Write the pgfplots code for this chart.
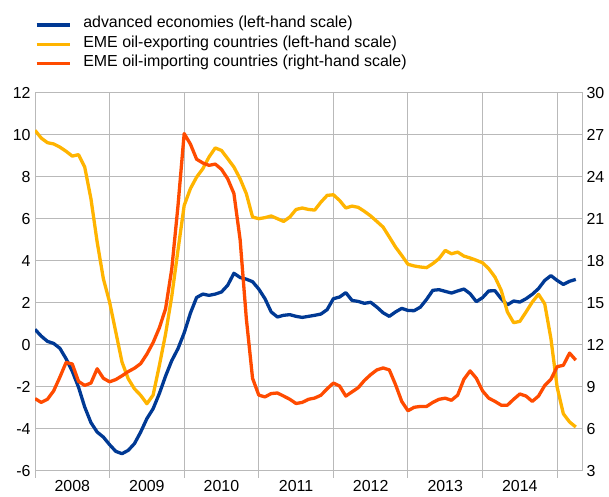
\documentclass[border=0pt]{standalone}
\usepackage{fontspec}
\setmainfont{Liberation Sans}
\usepackage{pgfplots}
\usepackage{pgfplotstable}
\pgfplotsset{compat=1.18}
\definecolor{advC}{RGB}{0,57,148}
\definecolor{expC}{RGB}{255,180,0}
\definecolor{impC}{RGB}{255,75,0}
\definecolor{gridC}{RGB}{185,185,185}
\pgfplotstableread{
m adv exp imp
0 0.73 10.21 8.15
1 0.41 9.84 7.88
2 0.16 9.62 8.10
3 0.06 9.56 8.70
4 -0.17 9.41 9.68
5 -0.67 9.21 10.73
6 -1.27 8.98 10.62
7 -2.02 9.05 9.38
8 -2.97 8.46 9.09
9 -3.71 6.95 9.26
10 -4.16 4.89 10.28
11 -4.40 3.14 9.60
12 -4.76 2.03 9.35
13 -5.08 0.60 9.51
14 -5.19 -0.83 9.78
15 -5.03 -1.62 10.08
16 -4.71 -2.10 10.32
17 -4.16 -2.41 10.65
18 -3.52 -2.81 11.33
19 -3.05 -2.40 12.15
20 -2.33 -1.00 13.20
21 -1.50 0.50 14.55
22 -0.76 2.30 17.40
23 -0.19 4.50 21.90
24 0.56 6.63 27.08
25 1.50 7.43 26.33
26 2.25 7.98 25.25
27 2.41 8.38 24.98
28 2.35 8.94 24.81
29 2.41 9.37 24.90
30 2.51 9.25 24.53
31 2.83 8.86 23.85
32 3.40 8.46 22.80
33 3.20 7.90 19.50
34 3.12 7.19 13.86
35 3.00 6.08 9.60
36 2.65 6.00 8.40
37 2.19 6.05 8.27
38 1.56 6.13 8.51
39 1.32 6.00 8.55
40 1.40 5.87 8.33
41 1.43 6.08 8.10
42 1.35 6.44 7.80
43 1.30 6.51 7.88
44 1.35 6.44 8.10
45 1.40 6.41 8.19
46 1.46 6.79 8.39
47 1.67 7.11 8.85
48 2.19 7.14 9.26
49 2.27 6.87 9.05
50 2.48 6.51 8.33
51 2.11 6.60 8.63
52 2.06 6.54 8.93
53 1.97 6.35 9.45
54 2.02 6.13 9.86
55 1.79 5.87 10.20
56 1.52 5.60 10.34
57 1.35 5.13 10.20
58 1.56 4.65 9.15
59 1.73 4.25 7.95
60 1.63 3.83 7.28
61 1.62 3.75 7.53
62 1.79 3.70 7.59
63 2.16 3.67 7.59
64 2.59 3.86 7.88
65 2.62 4.10 8.10
66 2.54 4.49 8.18
67 2.46 4.33 8.03
68 2.56 4.41 8.40
69 2.65 4.22 9.53
70 2.43 4.13 10.13
71 2.05 4.02 9.60
72 2.24 3.90 8.70
73 2.56 3.62 8.18
74 2.57 3.22 7.95
75 2.19 2.59 7.68
76 1.90 1.56 7.68
77 2.08 1.05 8.10
78 2.03 1.11 8.48
79 2.19 1.56 8.33
80 2.40 2.03 7.95
81 2.67 2.40 8.33
82 3.06 1.95 9.08
83 3.29 0.29 9.53
84 3.06 -2.02 10.43
85 2.87 -3.29 10.53
86 3.02 -3.68 11.40
87 3.11 -3.92 10.90
}\datatable
\begin{document}
\begin{tikzpicture}
\pgfplotsset{
  common/.style={
    scale only axis, width=547bp, height=378bp,
    xmin=0, xmax=88,
    axis line style={gridC, line width=1bp},
    tick label style={font=\fontsize{16}{19}\selectfont, text=black},
    /pgf/number format/assume math mode=true,
  },
}
\begin{axis}[common,
  ymin=-6, ymax=12, ytick={-6,-4,...,12},
  grid=major, grid style={gridC, line width=1bp},
  ytick style={draw=none},
  xtick={0,12,...,84}, xticklabels={2008,2009,2010,2011,2012,2013,2014},
  x tick label as interval,
  xtick pos=bottom, xtick align=outside, major tick length=7bp,
  xtick style={draw=gridC, line width=1bp},
  yticklabel style={xshift=-1bp},
  xticklabel style={yshift=1bp},
]
\addplot[advC, line width=3.3bp, line join=round] table[x=m, y=adv] {\datatable};
\addplot[expC, line width=3.3bp, line join=round] table[x=m, y=exp] {\datatable};
\end{axis}
\begin{axis}[common,
  ymin=3, ymax=30, ytick={3,6,...,30},
  axis y line*=right, axis x line=none,
  ytick style={draw=none},
  yticklabel style={xshift=1bp},
  legend cell align=left,
  legend image code/.code={\draw[#1, line width=3.3bp] (0bp,0bp) -- (33bp,0bp);},
  legend style={draw=none, fill=none, at={(0,1)}, anchor=south west,
    xshift=0bp, yshift=19.5bp, inner sep=0pt, outer sep=0pt,
    font=\fontsize{16}{19}\selectfont,
    nodes={inner sep=0pt, text height=12.5bp, text depth=6.8bp},
    /tikz/every odd column/.append style={column sep=12bp}},
]
\addlegendimage{advC}
\addlegendentry{advanced economies (left-hand scale)}
\addlegendimage{expC}
\addlegendentry{EME oil-exporting countries (left-hand scale)}
\addplot[impC, line width=3.3bp, line join=round] table[x=m, y=imp] {\datatable};
\addlegendentry{EME oil-importing countries (right-hand scale)}
\end{axis}
\pgfresetboundingbox
\useasboundingbox (-35bp,-26bp) rectangle (574bp,470.7bp);
\end{tikzpicture}
\end{document}
